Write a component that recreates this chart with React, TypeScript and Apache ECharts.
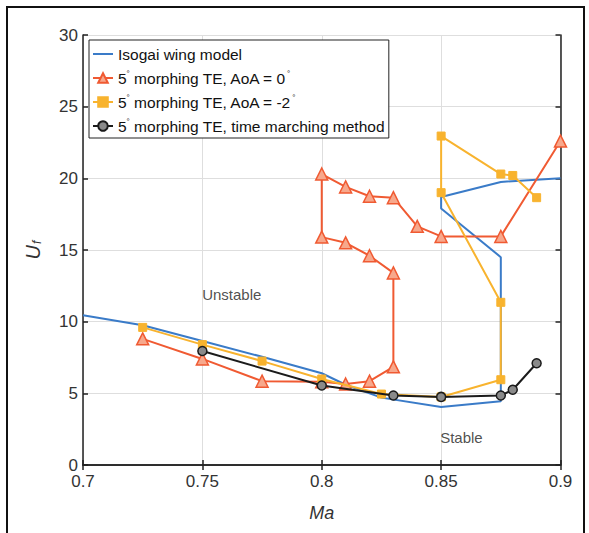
import React, { useEffect, useRef } from "react";
import * as echarts from "echarts";

const FONT = "'Liberation Sans', Arial, sans-serif";

const seriesNames = [
  "Isogai wing model",
  "5° morphing TE, AoA = 0°",
  "5° morphing TE, AoA = -2°",
  "5° morphing TE, time marching method",
];

const isogaiMa = [0.7, 0.725, 0.75, 0.775, 0.8, 0.81, 0.825, 0.85, 0.875, 0.875, 0.85, 0.85, 0.875, 0.9];
const isogaiUf = [10.45, 9.75, 8.65, 7.55, 6.4, 5.6, 4.7, 4.05, 4.45, 14.5, 17.9, 18.7, 19.75, 20.0];

const aoa0Ma = [0.725, 0.75, 0.775, 0.8, 0.81, 0.82, 0.83, 0.83, 0.82, 0.81, 0.8, 0.8, 0.81, 0.82, 0.83, 0.84, 0.85, 0.875, 0.9];
const aoa0Uf = [8.8, 7.4, 5.85, 5.8, 5.65, 5.85, 6.85, 13.4, 14.6, 15.5, 15.9, 20.3, 19.4, 18.75, 18.65, 16.65, 15.95, 15.95, 22.6];

const aoaM2Ma = [0.725, 0.75, 0.775, 0.8, 0.825, 0.85, 0.875, 0.875, 0.85, 0.85, 0.875, 0.88, 0.89];
const aoaM2Uf = [9.6, 8.4, 7.25, 6.0, 4.95, 4.75, 5.95, 11.35, 19.0, 22.95, 20.3, 20.2, 18.65];

const timeMa = [0.75, 0.8, 0.83, 0.85, 0.875, 0.88, 0.89];
const timeUf = [7.95, 5.55, 4.85, 4.75, 4.85, 5.25, 7.1];

const annotationTexts = ["Unstable", "Stable"];
const annotationMa = [0.7623, 0.8585];
const annotationUf = [11.93, 1.9];

const xTicks = { min: 0.7, max: 0.9, interval: 0.05 };
const yTicks = { min: 0, max: 30, interval: 5 };

const colors = ["#3a7bc8", "#f05a32", "#f8b32e", "#1b1b1b"];

const zip = (a: number[], b: number[]) => a.map((v, i) => [v, b[i]]);

export default function App() {
  const ref = useRef<HTMLDivElement>(null);
  useEffect(() => {
    if (!ref.current) return;
    const chart = echarts.init(ref.current, undefined, { renderer: "svg" });
    const axisLine = { show: true, lineStyle: { color: "#222", width: 1.5 } };
    const tick = { show: true, inside: true, length: 5, lineStyle: { color: "#222", width: 1.5 } };
    chart.setOption({
      animation: false,
      backgroundColor: "#fff",
      textStyle: { fontFamily: FONT },
      grid: { left: 83, right: 28.5, top: 35, bottom: 68 },
      graphic: [
        {
          type: "rect",
          shape: { x: 7, y: 7, width: 577, height: 545 },
          style: { fill: "none", stroke: "#111", lineWidth: 2 },
          silent: true,
          z: 100,
        },
      ],
      legend: {
        orient: "vertical",
        left: 89,
        top: 40,
        padding: [5, 4, 3, 3],
        itemWidth: 20,
        itemHeight: 12,
        itemGap: 6,
        borderColor: "#222",
        borderWidth: 1,
        backgroundColor: "#fff",
        data: [
          { name: seriesNames[0], itemStyle: { opacity: 0 } },
          seriesNames[1],
          seriesNames[2],
          seriesNames[3],
        ],
        textStyle: {
          fontSize: 15.5,
          color: "#111",
          fontFamily: FONT,
          lineHeight: 18,
          rich: { sup: { fontSize: 8, padding: [0, 0, 10, 0], fontFamily: FONT, color: "#111" } },
        },
        formatter: (name: string) => name.replace(/°/g, "{sup|°}"),
      },
      xAxis: [
        {
          type: "value",
          ...xTicks,
          axisLine,
          axisTick: tick,
          axisLabel: {
            fontSize: 17,
            color: "#333",
            margin: 8,
            lineHeight: 17,
            fontFamily: FONT,
            formatter: (v: number) => String(parseFloat(v.toFixed(2))),
          },
          splitLine: { show: true, lineStyle: { color: "#dedede", width: 1 } },
          name: "Ma",
          nameLocation: "middle",
          nameGap: 39,
          nameTextStyle: { fontSize: 18, fontStyle: "italic", color: "#333", fontFamily: FONT },
        },
        {
          type: "value",
          position: "top",
          ...xTicks,
          axisLine,
          axisTick: tick,
          axisLabel: { show: false },
          splitLine: { show: false },
        },
      ],
      yAxis: [
        {
          type: "value",
          ...yTicks,
          axisLine,
          axisTick: tick,
          axisLabel: { fontSize: 17, color: "#333", margin: 5, lineHeight: 14, fontFamily: FONT },
          splitLine: { show: true, lineStyle: { color: "#dedede", width: 1 } },
          name: "{u|U}{f|f}",
          nameLocation: "middle",
          nameRotate: 90,
          nameGap: 40,
          nameTextStyle: {
            rich: {
              u: { fontSize: 20, fontStyle: "italic", color: "#333", fontFamily: FONT },
              f: { fontSize: 12, fontStyle: "italic", color: "#333", fontFamily: FONT, padding: [8, 0, 0, 1] },
            },
          },
        },
        {
          type: "value",
          position: "right",
          ...yTicks,
          axisLine,
          axisTick: tick,
          axisLabel: { show: false },
          splitLine: { show: false },
        },
      ],
      series: [
        {
          name: seriesNames[0],
          type: "line",
          data: zip(isogaiMa, isogaiUf),
          showSymbol: false,
          symbol: "none",
          lineStyle: { color: colors[0], width: 2 },
          itemStyle: { color: colors[0] },
          z: 2,
        },
        {
          name: seriesNames[1],
          type: "line",
          data: zip(aoa0Ma, aoa0Uf),
          symbol: "triangle",
          symbolSize: 12,
          lineStyle: { color: colors[1], width: 2 },
          itemStyle: { color: "#f7a88c", borderColor: colors[1], borderWidth: 1.5 },
          z: 3,
        },
        {
          name: seriesNames[2],
          type: "line",
          data: zip(aoaM2Ma, aoaM2Uf),
          symbol: "rect",
          symbolSize: 8,
          lineStyle: { color: colors[2], width: 2 },
          itemStyle: { color: colors[2], borderColor: colors[2], borderWidth: 1 },
          z: 4,
        },
        {
          name: seriesNames[3],
          type: "line",
          data: zip(timeMa, timeUf),
          symbol: "circle",
          symbolSize: 9,
          lineStyle: { color: colors[3], width: 2 },
          itemStyle: { color: "#8a8a8a", borderColor: colors[3], borderWidth: 1.5 },
          z: 5,
        },
        {
          name: "annotations",
          type: "scatter",
          data: zip(annotationMa, annotationUf),
          symbolSize: 1,
          itemStyle: { color: "rgba(0,0,0,0)" },
          silent: true,
          label: {
            show: true,
            position: "inside",
            fontSize: 15,
            color: "#222",
            fontFamily: FONT,
            formatter: (p: any) => annotationTexts[p.dataIndex],
          },
          z: 6,
        },
      ],
    });
    return () => chart.dispose();
  }, []);
  return (
    <div
      ref={ref}
      style={{ position: "fixed", left: 0, top: 0, width: 589, height: 533, background: "#fff" }}
    />
  );
}
